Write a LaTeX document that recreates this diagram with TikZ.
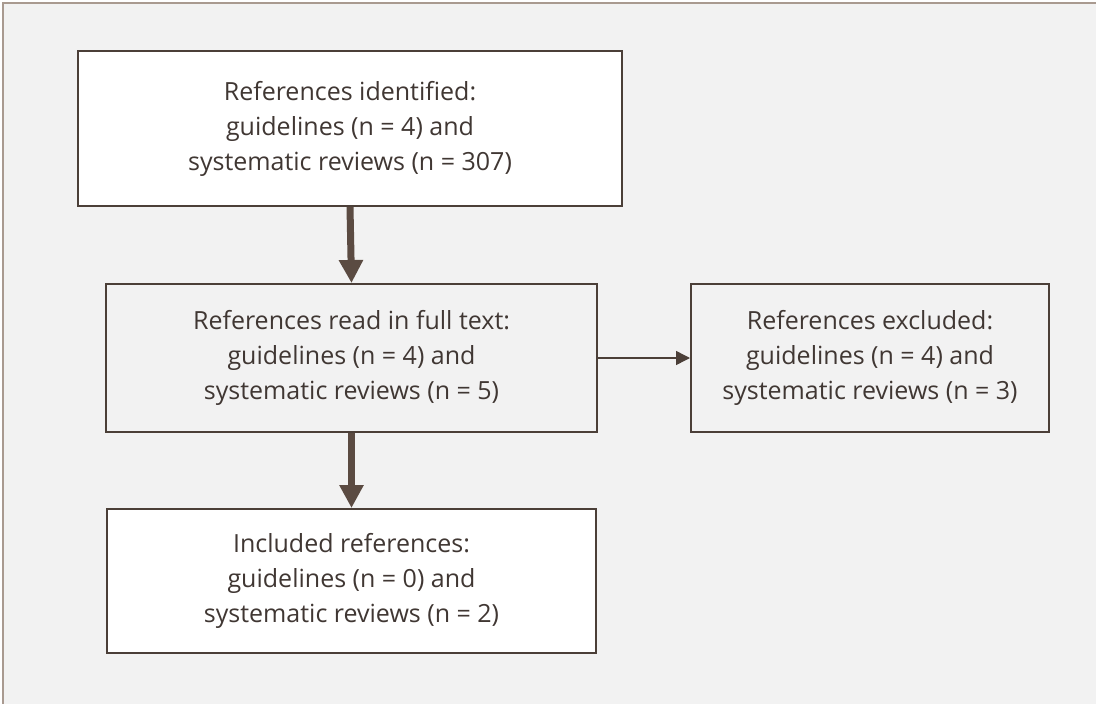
\documentclass[tikz,border=0pt]{standalone}
\usepackage{fontspec}
\setmainfont{Open Sans}
\usetikzlibrary{arrows.meta}
\definecolor{frameC}{HTML}{A99A90}
\definecolor{bgC}{HTML}{F2F2F2}
\definecolor{lineC}{HTML}{4B3F38}
\definecolor{arrC}{HTML}{5B4B42}
\definecolor{textC}{HTML}{403733}
\begin{document}
\begin{tikzpicture}[x=1pt,y=-1pt,
  box/.style={draw=lineC, line width=2pt, align=center, inner sep=0pt,
    font=\fontsize{25}{35}\selectfont, text=textC},
  thickarrow/.style={draw=arrC, line width=7pt, -{Triangle[width=23pt,length=23pt]}},
  thinarrow/.style={draw=lineC, line width=1.5pt, -{Triangle[width=14pt,length=14pt]}}]
\useasboundingbox (0,0) rectangle (1096,704);
\draw[frameC, line width=2pt, fill=bgC] (2.5,2.5) rectangle (1120,730);
\node[box, fill=white, minimum width=544pt, minimum height=155pt] (b1) at (350,128.5)
  {References identified:\\guidelines (n = 4) and\\systematic reviews (n = 307)};
\node[box, fill=bgC, minimum width=491pt, minimum height=148pt] (b2) at (351.5,358)
  {References read in full text:\\guidelines (n = 4) and\\systematic reviews (n = 5)};
\node[box, fill=bgC, minimum width=358pt, minimum height=148pt] (b3) at (870,358)
  {References excluded:\\guidelines (n = 4) and\\systematic reviews (n = 3)};
\node[box, fill=white, minimum width=489pt, minimum height=144pt] (b4) at (351.5,581)
  {Included references:\\guidelines (n = 0) and\\systematic reviews (n = 2)};
\draw[thickarrow] (b1.south) -- (b2.north);
\draw[thickarrow] (b2.south) -- (b4.north);
\draw[thinarrow] (b2.east) -- (b3.west);
\end{tikzpicture}
\end{document}
